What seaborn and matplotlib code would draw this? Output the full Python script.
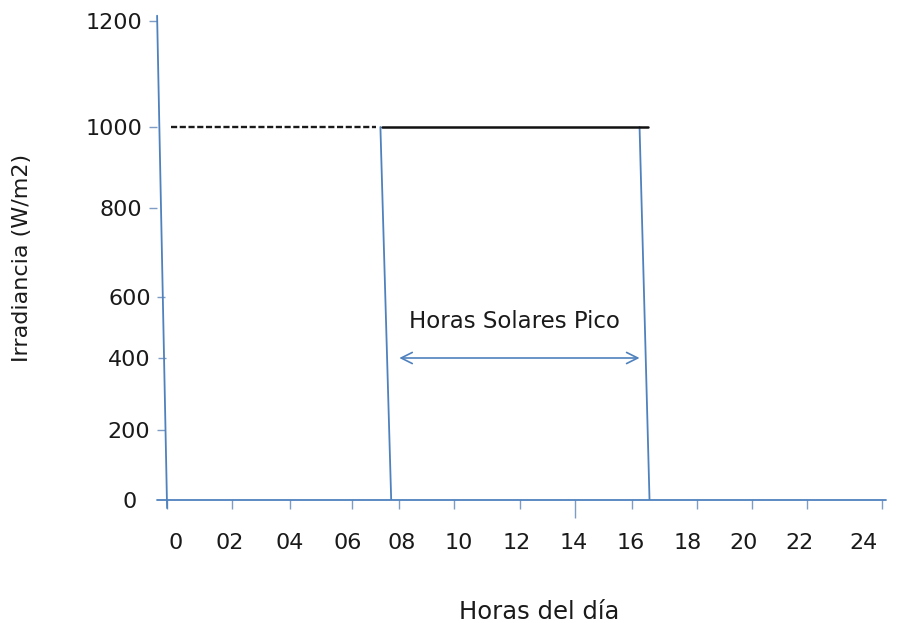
import numpy as np
import pandas as pd
import matplotlib
matplotlib.use("Agg")
import matplotlib.pyplot as plt
import matplotlib.transforms as mtransforms
import seaborn as sns

# ---------------- data ----------------
horas = [0, 2, 4, 6, 8, 10, 12, 14, 16, 18, 20, 22, 24]
etiquetas_horas = ["0", "02", "04", "06", "08", "10", "12", "14",
                   "16", "18", "20", "22", "24"]
irr_ticks = [0, 200, 400, 600, 800, 1000, 1200]
etiquetas_irr = ["0", "200", "400", "600", "800", "1000", "1200"]

irradiancia_pico = 1000
# limits of the peak-sun-hours block (hour at top, hour at bottom)
limite_hora_sup = [7.2, 16.3]
limite_hora_inf = [7.6, 16.65]
# dashed and solid segments at 1000 W/m2
tramo_discontinuo = [-0.2, 7.05]
tramo_continuo = [7.25, 16.6]
# double arrow of "Horas Solares Pico"
flecha_horas = [7.9, 16.3]
flecha_irr = 400
texto_hsp = "Horas Solares Pico"
texto_hora, texto_irr = 11.9, 520
# hand-drawn axis lines
eje_y_horas = [-0.7, -0.33]
eje_y_irr = [1210, -23]
eje_x_horas = [-0.7, 24.7]

# ---------------- layout (pixel geometry of the irregular drawing) ----------------
label_px = [176, 230, 290, 348, 402, 459, 517, 574, 631, 688, 744, 800, 864]
mark_px = [167, 232, 290, 352, 399, 454, 520, 575, 632, 697, 752, 807, 882]
y_off_px = [0, 70, 142, 203, 292, 373, 479]
# horizontal shift (px) of y tick marks / labels following the slanted axis
y_tick_shift = [0, 8, 9, 8, 0, 0, 0]
y_label_shift = [-5, 8, 9, 9, 0, 0, 0]

W, H = 898, 623
AX_L, AX_R, AX_B, AX_T = 157, 892, 500, 8


def piecewise(xp, fp):
    xp = np.asarray(xp, float)
    fp = np.asarray(fp, float)

    def f(v):
        v = np.asarray(v, float)
        out = np.interp(v, xp, fp)
        lo = fp[0] + (v - xp[0]) * (fp[1] - fp[0]) / (xp[1] - xp[0])
        hi = fp[-1] + (v - xp[-1]) * (fp[-1] - fp[-2]) / (xp[-1] - xp[-2])
        out = np.where(v < xp[0], lo, out)
        out = np.where(v > xp[-1], hi, out)
        return out
    return f


fx, fx_inv = piecewise(horas, label_px), piecewise(label_px, horas)
fy, fy_inv = piecewise(irr_ticks, y_off_px), piecewise(y_off_px, irr_ticks)

sns.set_theme(style="white")
plt.rcParams["font.family"] = ["DejaVu Sans"]
TXT = "#1a1a1a"
BLUE = "#4f81bd"
TICKC = "#7f9cc4"

fig = plt.figure(figsize=(W / 100, H / 100), dpi=100)
ax = fig.add_axes([AX_L / W, (H - AX_B) / H, (AX_R - AX_L) / W, (AX_B - AX_T) / H])

# boundary lines of the block
bordes = pd.DataFrame({
    "hora": [limite_hora_sup[0], limite_hora_inf[0], limite_hora_sup[1], limite_hora_inf[1]],
    "irr": [irradiancia_pico, 0, irradiancia_pico, 0],
    "linea": ["ini", "ini", "fin", "fin"],
})
sns.lineplot(data=bordes, x="hora", y="irr", units="linea", estimator=None,
             sort=False, color=BLUE, lw=1.3, ax=ax, legend=False)

# 1000 W/m2 dashed + solid
sns.lineplot(x=tramo_discontinuo, y=[irradiancia_pico] * 2, color="#1a1a1a",
             lw=1.7, ax=ax, linestyle=(0, (2.6, 1.1)))
sns.lineplot(x=tramo_continuo, y=[irradiancia_pico] * 2, color="#111111",
             lw=1.8, ax=ax)

# axis lines (hand-drawn, slightly slanted y axis)
ax.plot(eje_y_horas, eje_y_irr, color=BLUE, lw=1.3, clip_on=False)
ax.plot(eje_x_horas, [0, 0], color=BLUE, lw=1.3, clip_on=False)

# arrow + text
ax.annotate("", xy=(flecha_horas[1], flecha_irr), xytext=(flecha_horas[0], flecha_irr),
            arrowprops=dict(arrowstyle="<->", color=BLUE, lw=1.2,
                            mutation_scale=20, shrinkA=0, shrinkB=0))
ax.text(texto_hora, texto_irr, texto_hsp, ha="center", va="center",
        fontsize=16.5, color=TXT)

# scales reproducing the irregular drawing
ax.set_xscale("function", functions=(fx, fx_inv))
ax.set_yscale("function", functions=(fy, fy_inv))
ax.set_xlim(float(fx_inv(AX_L)), float(fx_inv(AX_R)))
ax.set_ylim(0, float(fy_inv(AX_B - AX_T)))

for s in ax.spines.values():
    s.set_visible(False)

ax.xaxis.remove_overlapping_locs = False
ax.set_xticks(horas)
ax.set_xticklabels(etiquetas_horas)
ax.set_xticks(list(fx_inv(mark_px)), minor=True)
ax.set_yticks(irr_ticks)
ax.set_yticklabels(etiquetas_irr)

ax.tick_params(axis="x", which="major", length=0, pad=23.8, labelsize=16,
               labelcolor=TXT, bottom=True)
ax.tick_params(axis="x", which="minor", length=6.5, width=1.0, color=TICKC,
               bottom=True, direction="out")
ax.tick_params(axis="y", which="major", length=5.8, width=1.0, color=TICKC,
               pad=5, labelsize=16, labelcolor=TXT, left=True, direction="out")

ax.set_xlabel("Horas del día", fontsize=17.5, color=TXT)
ax.set_ylabel("Irradiancia (W/m2)", fontsize=16, color=TXT)
ax.xaxis.set_label_coords((539 - AX_L) / (AX_R - AX_L), (AX_B - 600) / (AX_B - AX_T))
ax.yaxis.set_label_coords((32 - AX_L) / (AX_R - AX_L), (AX_B - 258) / (AX_B - AX_T))

# per-tick tweaks after all tick_params calls
mticks = ax.xaxis.get_minor_ticks(len(mark_px))
mticks[7].tick1line.set_markersize(13)

yticks = ax.yaxis.get_major_ticks(len(irr_ticks))
for t, dl, dt in zip(yticks, y_label_shift, y_tick_shift):
    t.label1.set_transform(t.label1.get_transform() +
                           mtransforms.ScaledTranslation(dl / 100, 0, fig.dpi_scale_trans))
    t.tick1line.set_transform(t.tick1line.get_transform() +
                              mtransforms.ScaledTranslation(dt / 100, 0, fig.dpi_scale_trans))
yticks[0].tick1line.set_visible(False)

fig.savefig("out.png", dpi=100)
